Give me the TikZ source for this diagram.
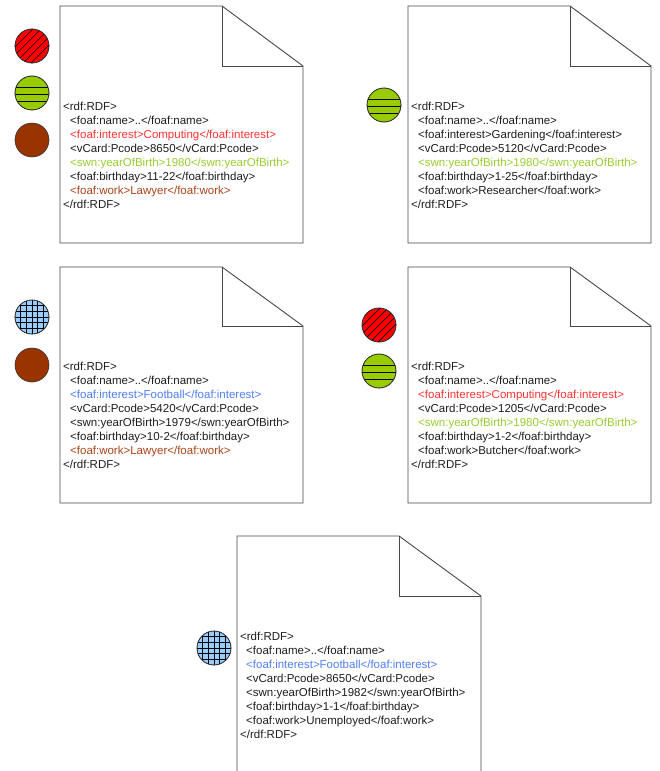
\documentclass[tikz,border=0pt]{standalone}
\usepackage{fontspec}
\setmainfont{Liberation Sans}
\definecolor{docline}{HTML}{474747}
\definecolor{txtblack}{HTML}{1E1E1E}
\definecolor{txtred}{HTML}{FF3333}
\definecolor{txtgreen}{HTML}{99CC33}
\definecolor{txtbrown}{HTML}{A9441A}
\definecolor{txtblue}{HTML}{5080F0}
\definecolor{fillred}{HTML}{FF0000}
\definecolor{fillgreen}{HTML}{99CC00}
\definecolor{fillbrown}{HTML}{993300}
\definecolor{fillblue}{HTML}{99CCFF}
\tikzset{
  docshape/.style={draw=docline,fill=white,line width=0.9pt,line join=miter},
  codeline/.style={inner sep=0pt,anchor=base west,font=\fontsize{11.5}{14}\selectfont},
  dot/.style={circle,draw=black!80,line width=0.6pt,minimum size=34pt,inner sep=0pt},
  hatch/.style={black,line width=0.7pt}
}
% document: #1 left, #2 top, #3 right, #4 bottom, #5 fold x, #6 fold y
\newcommand\paperdoc[6]{%
  \draw[docshape] (#1,#2) -- (#5,#2) -- (#3,#6) -- (#3,#4) -- (#1,#4) -- cycle;
  \draw[docshape,fill=none] (#5,#2) -- (#5,#6) -- (#3,#6);}
\newcommand\reddot[3]{%
  \node[dot,fill=fillred] (#1) at (#2,#3) {};
  \begin{scope}\clip (#2,#3) circle (17pt);
    \foreach \d in {-40,-32,...,40} \draw[hatch] (#2+\d-20,#3+20) -- (#2+\d+20,#3-20);
  \end{scope}
  \draw[black!80,line width=0.6pt] (#2,#3) circle (17pt);}
\newcommand\greendot[3]{%
  \node[dot,fill=fillgreen] (#1) at (#2,#3) {};
  \begin{scope}\clip (#2,#3) circle (17pt);
    \foreach \d in {-6,1,8} \draw[hatch] (#2-20,#3+\d) -- (#2+20,#3+\d);
  \end{scope}
  \draw[black!80,line width=0.6pt] (#2,#3) circle (17pt);}
\newcommand\browndot[3]{%
  \node[dot,fill=fillbrown] (#1) at (#2,#3) {};}
\newcommand\bluedot[3]{%
  \node[dot,fill=fillblue] (#1) at (#2,#3) {};
  \begin{scope}\clip (#2,#3) circle (17pt);
    \foreach \d in {-11.4,-5.7,0,5.7,11.4} {
      \draw[hatch] (#2+\d,#3-20) -- (#2+\d,#3+20);
      \draw[hatch] (#2-20,#3+\d) -- (#2+20,#3+\d);}
  \end{scope}
  \draw[black!80,line width=0.6pt] (#2,#3) circle (17pt);}
% code lines: #1 name, #2 x, #3 baseline y, #4 colour, #5 text
\newcommand\codeln[5]{\node[codeline,text=#4] (#1) at (#2,#3) {#5};}
\begin{document}
\begin{tikzpicture}[x=1pt,y=-1pt]
\useasboundingbox (0,0) rectangle (659,771);
\clip (0,0) rectangle (659,771);
\fill[white] (0,0) rectangle (659,771);

% ---------- document 1 ----------
\paperdoc{60}{6}{303}{243}{222}{66}
\reddot{d1a}{32}{46}
\greendot{d1b}{32}{93}
\browndot{d1c}{32}{140}
\codeln{d1l1}{63}{110}{txtblack}{<rdf:RDF>}
\codeln{d1l2}{70}{124}{txtblack}{<foaf:name>..</foaf:name>}
\codeln{d1l3}{70}{138}{txtred}{<foaf:interest>Computing</foaf:interest>}
\codeln{d1l4}{70}{152}{txtblack}{<vCard:Pcode>8650</vCard:Pcode>}
\codeln{d1l5}{70}{166}{txtgreen}{<swn:yearOfBirth>1980</swn:yearOfBirth>}
\codeln{d1l6}{70}{180}{txtblack}{<foaf:birthday>11-22</foaf:birthday>}
\codeln{d1l7}{70}{194}{txtbrown}{<foaf:work>Lawyer</foaf:work>}
\codeln{d1l8}{63}{208}{txtblack}{</rdf:RDF>}

% ---------- document 2 ----------
\paperdoc{408}{6}{651}{243}{570}{66}
\greendot{d2a}{384}{105}
\codeln{d2l1}{411}{110}{txtblack}{<rdf:RDF>}
\codeln{d2l2}{418}{124}{txtblack}{<foaf:name>..</foaf:name>}
\codeln{d2l3}{418}{138}{txtblack}{<foaf:interest>Gardening</foaf:interest>}
\codeln{d2l4}{418}{152}{txtblack}{<vCard:Pcode>5120</vCard:Pcode>}
\codeln{d2l5}{418}{166}{txtgreen}{<swn:yearOfBirth>1980</swn:yearOfBirth>}
\codeln{d2l6}{418}{180}{txtblack}{<foaf:birthday>1-25</foaf:birthday>}
\codeln{d2l7}{418}{194}{txtblack}{<foaf:work>Researcher</foaf:work>}
\codeln{d2l8}{411}{208}{txtblack}{</rdf:RDF>}

% ---------- document 3 ----------
\paperdoc{60}{267}{303}{503}{222}{326}
\bluedot{d3a}{32}{317}
\browndot{d3b}{32}{365}
\codeln{d3l1}{63}{370}{txtblack}{<rdf:RDF>}
\codeln{d3l2}{70}{384}{txtblack}{<foaf:name>..</foaf:name>}
\codeln{d3l3}{70}{398}{txtblue}{<foaf:interest>Football</foaf:interest>}
\codeln{d3l4}{70}{412}{txtblack}{<vCard:Pcode>5420</vCard:Pcode>}
\codeln{d3l5}{70}{426}{txtblack}{<swn:yearOfBirth>1979</swn:yearOfBirth>}
\codeln{d3l6}{70}{440}{txtblack}{<foaf:birthday>10-2</foaf:birthday>}
\codeln{d3l7}{70}{454}{txtbrown}{<foaf:work>Lawyer</foaf:work>}
\codeln{d3l8}{63}{468}{txtblack}{</rdf:RDF>}

% ---------- document 4 ----------
\paperdoc{408}{267}{651}{503}{570}{326}
\reddot{d4a}{379}{325}
\greendot{d4b}{379}{371}
\codeln{d4l1}{411}{370}{txtblack}{<rdf:RDF>}
\codeln{d4l2}{418}{384}{txtblack}{<foaf:name>..</foaf:name>}
\codeln{d4l3}{418}{398}{txtred}{<foaf:interest>Computing</foaf:interest>}
\codeln{d4l4}{418}{412}{txtblack}{<vCard:Pcode>1205</vCard:Pcode>}
\codeln{d4l5}{418}{426}{txtgreen}{<swn:yearOfBirth>1980</swn:yearOfBirth>}
\codeln{d4l6}{418}{440}{txtblack}{<foaf:birthday>1-2</foaf:birthday>}
\codeln{d4l7}{418}{454}{txtblack}{<foaf:work>Butcher</foaf:work>}
\codeln{d4l8}{411}{468}{txtblack}{</rdf:RDF>}

% ---------- document 5 ----------
\paperdoc{237}{536}{481}{790}{399}{596}
\bluedot{d5a}{214}{648}
\codeln{d5l1}{240}{640}{txtblack}{<rdf:RDF>}
\codeln{d5l2}{246}{654}{txtblack}{<foaf:name>..</foaf:name>}
\codeln{d5l3}{246}{668}{txtblue}{<foaf:interest>Football</foaf:interest>}
\codeln{d5l4}{246}{682}{txtblack}{<vCard:Pcode>8650</vCard:Pcode>}
\codeln{d5l5}{246}{696}{txtblack}{<swn:yearOfBirth>1982</swn:yearOfBirth>}
\codeln{d5l6}{246}{710}{txtblack}{<foaf:birthday>1-1</foaf:birthday>}
\codeln{d5l7}{246}{724}{txtblack}{<foaf:work>Unemployed</foaf:work>}
\codeln{d5l8}{240}{738}{txtblack}{</rdf:RDF>}
\end{tikzpicture}
\end{document}
